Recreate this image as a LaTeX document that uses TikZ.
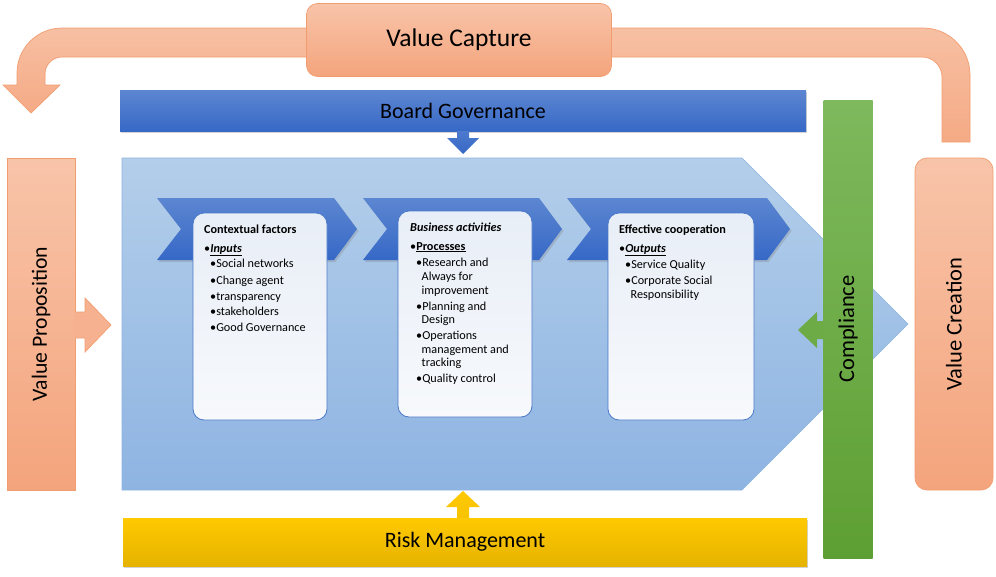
\documentclass[tikz,border=0pt]{standalone}
\usepackage{fontspec}
\setmainfont{Carlito}
\usetikzlibrary{shadows}
\definecolor{salT}{HTML}{F8C4A9}
\definecolor{salB}{HTML}{F4A47C}
\definecolor{salL}{HTML}{F29D70}
\definecolor{bandT}{HTML}{F7C0A3}
\definecolor{bandB}{HTML}{F5AA85}
\definecolor{bluT}{HTML}{5C86D1}
\definecolor{bluB}{HTML}{3668C6}
\definecolor{penT}{HTML}{B3CEEA}
\definecolor{penB}{HTML}{8EB4E2}
\definecolor{penL}{HTML}{8DB3E0}
\definecolor{grnT}{HTML}{7EB95D}
\definecolor{grnB}{HTML}{5E9F33}
\definecolor{yelT}{HTML}{FFC900}
\definecolor{yelB}{HTML}{E5B300}
\definecolor{boxT}{HTML}{E8EEF7}
\definecolor{boxB}{HTML}{F7F9FC}
\definecolor{boxL}{HTML}{4A78C8}
\begin{document}
\begin{tikzpicture}[x=1pt,y=-1pt,
  salfill/.style={draw=salL, line width=0.7pt, top color=salT, bottom color=salB},
  bandfill/.style={draw=salL, line width=0.7pt, top color=bandT, bottom color=bandB},
  blubar/.style={top color=bluT, bottom color=bluB, drop shadow={opacity=0.35, shadow xshift=1pt, shadow yshift=-1.5pt}},
  chev/.style={top color=bluT, bottom color=bluB, drop shadow={opacity=0.3, shadow xshift=1.5pt, shadow yshift=-2pt}},
  whitebox/.style={draw=boxL, line width=0.8pt, rounded corners=11pt, top color=boxT, bottom color=boxB, inner sep=0pt},
  bigtxt/.style={font=\fontsize{25.5}{30}\selectfont, text=black, inner sep=0pt},
  midtxt/.style={font=\fontsize{22}{26}\selectfont, text=black, inner sep=0pt},
  sidetxt/.style={font=\fontsize{22.5}{26}\selectfont, text=black, inner sep=0pt, rotate=90},
  smalltxt/.style={font=\fontsize{12.2}{14}\selectfont, text=black, inner sep=0pt, anchor=base west}
]
\useasboundingbox (0,0) rectangle (996,576);

% ---- curved band arrows (Value Capture) ----
\path[bandfill] (330,28) -- (62,28) arc[start angle=-90, end angle=-180, radius=45] -- (17,85) -- (3,85) -- (31,113) -- (60,85) -- (45,85) -- (45,74) arc[start angle=180, end angle=270, radius=17] -- (330,57) -- cycle;
\path[bandfill] (590,28) -- (923,28) arc[start angle=-90, end angle=0, radius=47] -- (970,142) -- (942,142) -- (942,77) arc[start angle=0, end angle=-90, radius=20] -- (590,57) -- cycle;
\node[salfill, rounded corners=11pt, minimum width=305pt, minimum height=73pt] (vc) at (459,40) {};
\node[bigtxt] (vct) at (vc.center) {Value Capture};

% ---- Board governance ----
\node[blubar, minimum width=686pt, minimum height=41pt, inner sep=0pt] (bg) at (463,111) {};
\node[midtxt] (bgt) at (bg.center) {Board Governance};
\path[top color=bluT!60!bluB, bottom color=bluB] (457,131) -- (469,131) -- (469,138) -- (479,138) -- (463,154) -- (447,138) -- (457,138) -- cycle;

% ---- big pentagon ----
\path[draw=penL, line width=0.6pt, top color=penT, bottom color=penB] (122,158) -- (742,158) -- (908,324) -- (742,490) -- (122,490) -- cycle;

% ---- chevrons ----
\path[chev] (157,198) -- (334,198) -- (357,229) -- (334,260) -- (157,260) -- (181,229) -- cycle;
\path[chev] (363,198) -- (539,198) -- (562,229) -- (539,260) -- (363,260) -- (387,229) -- cycle;
\path[chev] (567,198) -- (767,198) -- (790,229) -- (767,260) -- (567,260) -- (591,229) -- cycle;

% ---- white boxes ----
\node[whitebox, minimum width=134pt, minimum height=207pt] (b1) at (260,316.5) {};
\node[whitebox, minimum width=134pt, minimum height=206pt] (b2) at (465,314) {};
\node[whitebox, minimum width=146pt, minimum height=207pt] (b3) at (681,316.5) {};

% box 1 text
\node[smalltxt] (t1a) at (204,233) {\textbf{Contextual factors}};
\node[smalltxt] (t1b) at (204,252) {•\textbf{\textit{\underline{Inputs}}}};
\foreach \nm/\yy/\tx in {t1c/267/Social networks, t1d/284/Change agent, t1e/300/transparency, t1f/315/stakeholders, t1g/331/Good Governance}
  \node[smalltxt] (\nm) at (210,\yy) {•\tx};

% box 2 text
\node[smalltxt] (t2a) at (410,231) {\textbf{\textit{Business activities}}};
\node[smalltxt] (t2b) at (410,250) {•\textbf{\underline{Processes}}};
\foreach \nm/\yy/\tx in {t2c/266/Research and, t2e/310/Planning and, t2g/339/Operations, t2j/382/Quality control}
  \node[smalltxt] (\nm) at (416,\yy) {•\tx};
\foreach \nm/\yy/\tx in {t2d/280/Always for, t2d2/294/improvement, t2f/323/Design, t2h/353/management and, t2i/366/tracking}
  \node[smalltxt] (\nm) at (421.5,\yy) {\tx};

% box 3 text
\node[smalltxt] (t3a) at (619,233) {\textbf{Effective cooperation}};
\node[smalltxt] (t3b) at (619,252) {•\textbf{\textit{\underline{Outputs}}}};
\node[smalltxt] (t3c) at (625,268) {•Service Quality};
\node[smalltxt] (t3d) at (625,284) {•Corporate Social};
\node[smalltxt] (t3e) at (630.5,298) {Responsibility};

% ---- Risk management ----
\path[top color=yelT, bottom color=yelT!70!yelB] (457,518) -- (457,507) -- (446,507) -- (463,491) -- (480,507) -- (469,507) -- (469,518) -- cycle;
\node[inner sep=0pt, minimum width=684pt, minimum height=48pt, top color=yelT, bottom color=yelB, drop shadow={opacity=0.35, shadow xshift=1pt, shadow yshift=-1.5pt}] (rm) at (465,542) {};
\node[midtxt] (rmt) at (rm.center) {Risk Management};

% ---- Compliance ----
\node[inner sep=0pt, minimum width=49pt, minimum height=458pt, top color=grnT, bottom color=grnB] (cp) at (848,329) {};
\node[sidetxt] (cpt) at (cp.center) {Compliance};
\path[fill=grnT!45!grnB] (823,321) -- (817,321) -- (817,312) -- (798,330) -- (817,348) -- (817,339) -- (823,339) -- cycle;

% ---- Value proposition ----
\node[salfill, inner sep=0pt, minimum width=68pt, minimum height=332pt] (vp) at (41,324) {};
\node[sidetxt, font=\fontsize{21.7}{26}\selectfont] (vpt) at (vp.center) {Value Proposition};
\path[draw=salL, line width=0.7pt, fill=salT!45!salB] (75,312) -- (85,312) -- (85,298) -- (111,325) -- (85,352) -- (85,338) -- (75,338);
\path[fill=salT!45!salB] (74.3,312.4) rectangle (76,337.6);

% ---- Value creation ----
\node[salfill, rounded corners=12pt, inner sep=0pt, minimum width=78pt, minimum height=332pt] (vcr) at (954,324) {};
\node[sidetxt] (vcrt) at (vcr.center) {Value Creation};
\end{tikzpicture}
\end{document}
